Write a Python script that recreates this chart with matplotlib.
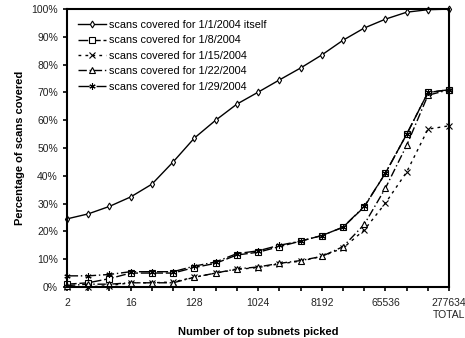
import matplotlib
matplotlib.use('Agg')
import matplotlib.pyplot as plt
import numpy as np

plt.rcParams['font.family'] = ['Liberation Sans', 'DejaVu Sans']

# x categories (number of top subnets picked)
subnets = ["2", "4", "8", "16", "32", "64", "128", "256", "512", "1024", "2048",
           "4096", "8192", "16384", "32768", "65536", "131072", "262144", "277634\nTOTAL"]
shown_labels = ["2", "16", "128", "1024", "8192", "65536", "277634\nTOTAL"]

# percentage of scans covered
jan01 = [24.5, 26.3, 29.0, 32.4, 37.0, 45.0, 53.6, 60.0, 65.8, 70.1, 74.5,
         78.8, 83.5, 88.8, 93.2, 96.4, 98.9, 99.8, 100.0]
jan08 = [1.0, 1.5, 3.0, 5.0, 5.0, 5.0, 7.0, 8.5, 11.5, 12.5, 14.5,
         16.5, 18.5, 21.5, 28.8, 41.0, 55.0, 70.0, 71.0]
jan15 = [0.0, 0.0, 0.5, 1.5, 1.5, 1.8, 3.5, 5.0, 6.3, 7.0, 8.3,
         9.3, 11.0, 14.0, 20.5, 30.2, 41.4, 56.8, 58.0]
jan22 = [0.5, 1.0, 1.0, 1.5, 1.5, 1.5, 3.5, 5.0, 6.5, 7.2, 8.5,
         9.5, 11.0, 14.5, 22.5, 35.6, 51.0, 69.0, 71.0]
jan29 = [4.0, 4.0, 4.5, 5.5, 5.5, 5.5, 7.5, 9.0, 12.0, 13.0, 15.0,
         16.5, 18.5, 21.5, 29.0, 41.0, 55.0, 70.0, 71.0]

labels = ["scans covered for 1/1/2004 itself", "scans covered for 1/8/2004",
          "scans covered for 1/15/2004", "scans covered for 1/22/2004",
          "scans covered for 1/29/2004"]

fig = plt.figure(figsize=(4.65, 3.38), dpi=100)
ax = fig.add_axes([0.144, 0.151, 0.822, 0.822])
x = np.arange(len(subnets))

ax.plot(x, jan01, color='black', lw=1, marker='d', ms=3.5, mfc='white', mew=0.8,
        label=labels[0], clip_on=False)
ax.plot(x, jan08, color='black', lw=1, dashes=(7, 2), marker='s', ms=4, mfc='white',
        mew=0.8, label=labels[1], clip_on=False)
ax.plot(x, jan15, color='black', lw=1, dashes=(2, 3), marker='x', ms=4, mew=0.8,
        label=labels[2], clip_on=False)
ax.plot(x, jan22, color='black', lw=1, dashes=(6, 2, 1, 2), marker='^', ms=4,
        mfc='white', mew=0.8, label=labels[3], clip_on=False)
ax.plot(x, jan29, color='black', lw=1, dashes=(8, 2, 1, 2), marker=(6, 2, 0), ms=4.5,
        mew=0.8, label=labels[4], clip_on=False)

ax.set_xlim(0, len(subnets) - 1)
ax.set_ylim(0, 100)
ax.set_yticks(np.arange(0, 101, 10))
ax.set_yticklabels([f"{v}%" for v in range(0, 101, 10)])
ax.set_xticks(x)
ax.set_xticklabels([s if s in shown_labels else "" for s in subnets])

for sp in ax.spines.values():
    sp.set_linewidth(1.5)
ax.tick_params(axis='both', direction='out', length=3, width=1.2, labelsize=7.5,
               colors='black', labelcolor='#222222')
ax.tick_params(axis='x', pad=5)

ax.set_xlabel("Number of top subnets picked", fontsize=8, fontweight='bold', labelpad=5)
ax.set_ylabel("Percentage of scans covered", fontsize=8, fontweight='bold')
ax.yaxis.set_label_coords(-0.11, 0.5)

ax.legend(loc='upper left', frameon=False, fontsize=7.8, handlelength=2.6,
          handletextpad=0.3, labelspacing=0.5, borderaxespad=0.6,
          bbox_to_anchor=(0.0, 1.0))

fig.savefig('out.png', dpi=100)
